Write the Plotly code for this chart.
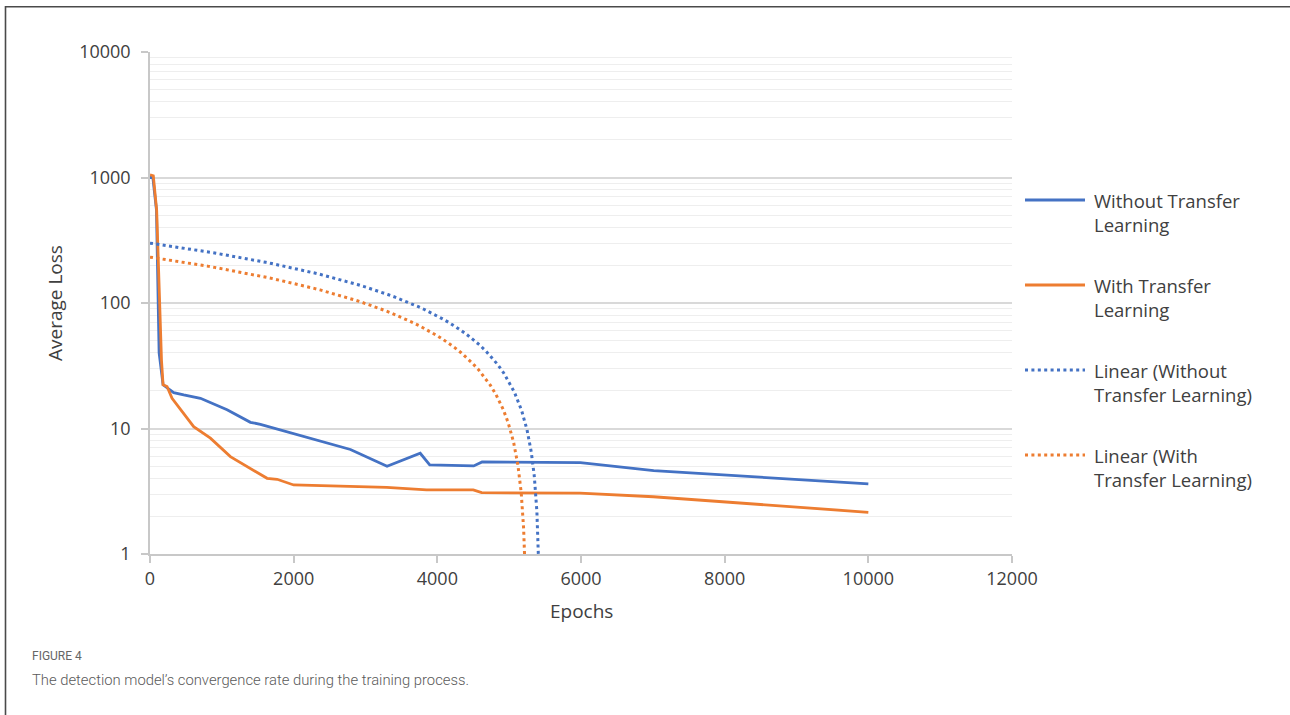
import numpy as np
import plotly.graph_objects as go

# ---------------- data ----------------
epochs_without = [0, 40, 90, 127, 182, 330, 469, 702, 1073, 1398, 1537, 1861,
                  2326, 2790, 3300, 3762, 3894, 4506, 4623, 5991, 7012, 10000]
loss_without = [1000, 1000, 550, 40, 22.3, 19.3, 18.5, 17.4, 14.1, 11.2, 10.8, 9.6,
                8.0, 6.8, 5.0, 6.35, 5.13, 5.03, 5.42, 5.35, 4.62, 3.62]

epochs_with = [0, 46, 93, 130, 160, 182, 237, 307, 608, 841, 1119, 1630, 1769,
               2000, 3295, 3850, 4500, 4617, 5986, 7007, 10000]
loss_with = [1050, 1030, 548, 119, 35, 22.3, 21.6, 17.4, 10.35, 8.37, 5.97, 4.01, 3.94,
             3.55, 3.40, 3.24, 3.24, 3.08, 3.05, 2.86, 2.15]

# linear trendlines (Excel "Linear" trendline: loss = intercept + slope * epoch)
trend_intercept = {"without": 300.0, "with": 232.0}
trend_slope = {"without": -0.0553, "with": -0.0443}

series_names = ["Without Transfer<br>Learning", "With Transfer<br>Learning",
                "Linear (Without<br>Transfer Learning)", "Linear (With<br>Transfer Learning)"]
y_tick_vals = [1, 10, 100, 1000, 10000]
y_tick_text = ["1", "10", "100", "1000", "10000"]
x_tick_vals = [0, 2000, 4000, 6000, 8000, 10000, 12000]
x_tick_text = ["0", "2000", "4000", "6000", "8000", "10000", "12000"]

BLUE = "#4472C4"
ORANGE = "#ED7D31"
TXT = "#404040"
FONT = "Open Sans"
CAP_FONT = "Roboto"

W, H = 1290, 715
L, R, T, B = 150, 278, 52, 161
PW, PH = W - L - R, H - T - B


def px(x):
    return (x - L) / PW


def py(y):
    return (H - B - y) / PH


def trend(key):
    a, b = trend_intercept[key], trend_slope[key]
    x_end = (0.9 - a) / b  # just below the axis floor so the line reaches the bottom
    xs = np.concatenate([np.linspace(0, x_end - 400, 60), np.linspace(x_end - 400, x_end, 200)])
    return xs, a + b * xs


fig = go.Figure()
fig.add_trace(go.Scatter(x=epochs_without, y=loss_without, mode="lines",
                         line=dict(color=BLUE, width=2.8), showlegend=False))
fig.add_trace(go.Scatter(x=epochs_with, y=loss_with, mode="lines",
                         line=dict(color=ORANGE, width=2.8), showlegend=False))
for key, col in (("without", BLUE), ("with", ORANGE)):
    tx, ty = trend(key)
    fig.add_trace(go.Scatter(x=tx, y=ty, mode="lines",
                             line=dict(color=col, width=3, dash="3px,3.4px"),
                             showlegend=False))

# ---------------- manual legend ----------------
shapes = []
annotations = []
legend_rows = [(200, BLUE, "solid"), (285, ORANGE, "solid"),
               (370, BLUE, "3px,3.4px"), (455, ORANGE, "3px,3.4px")]
for (ly, col, dash), name in zip(legend_rows, series_names):
    shapes.append(dict(type="line", xref="paper", yref="paper",
                       x0=px(1025), x1=px(1085), y0=py(ly), y1=py(ly),
                       line=dict(color=col, width=2.8 if dash == "solid" else 3, dash=dash)))
    annotations.append(dict(xref="paper", yref="paper", x=px(1092), y=py(ly + 12.5),
                            xanchor="left", yanchor="middle", align="left", showarrow=False,
                            text=name, font=dict(family=FONT, size=18.5, color=TXT)))

# axis titles
annotations.append(dict(xref="paper", yref="paper", x=px(55), y=py(303), textangle=-90,
                        xanchor="center", yanchor="middle", showarrow=False,
                        text="Average Loss", font=dict(family=FONT, size=19, color=TXT)))
annotations.append(dict(xref="paper", yref="paper", x=px(581), y=py(611),
                        xanchor="center", yanchor="middle", showarrow=False,
                        text="Epochs", font=dict(family=FONT, size=19, color=TXT)))

# caption
annotations.append(dict(xref="paper", yref="paper", x=px(30), y=py(656),
                        xanchor="left", yanchor="middle", showarrow=False,
                        text="FIGURE 4", font=dict(family=CAP_FONT, size=12, color="#666666")))
annotations.append(dict(xref="paper", yref="paper", x=px(30), y=py(680),
                        xanchor="left", yanchor="middle", showarrow=False,
                        text="The detection model\u2019s convergence rate during the training process.",
                        font=dict(family=CAP_FONT, size=14.8, color="#5a5a5a", weight=300)))

# outer frame (top and left edges visible)
shapes.append(dict(type="line", xref="paper", yref="paper", x0=px(5.5), x1=px(1300),
                   y0=py(6.8), y1=py(6.8), line=dict(color="#4a4a4a", width=1.6)))
shapes.append(dict(type="line", xref="paper", yref="paper", x0=px(5.5), x1=px(5.5),
                   y0=py(6), y1=py(730), line=dict(color="#4a4a4a", width=1.6)))

fig.update_layout(
    width=W, height=H,
    margin=dict(l=L, r=R, t=T, b=B, pad=0),
    paper_bgcolor="white", plot_bgcolor="white",
    showlegend=False,
    shapes=shapes, annotations=annotations,
    font=dict(family=FONT, size=18, color=TXT),
)
fig.update_xaxes(range=[0, 12000], tickmode="array", tickvals=x_tick_vals, ticktext=x_tick_text,
                 showgrid=False, zeroline=False, showline=True, linecolor="#c8c8c8", linewidth=1.6,
                 ticks="outside", ticklen=7, tickcolor="#c8c8c8", tickwidth=1.6,
                 tickfont=dict(family=FONT, size=18, color=TXT), ticklabelstandoff=1)
fig.update_yaxes(type="log", range=[0, 4], tickmode="array", tickvals=y_tick_vals, ticktext=y_tick_text,
                 showgrid=True, gridcolor="#d9d9d9", gridwidth=1.6,
                 minor=dict(dtick="D1", showgrid=True, gridcolor="#eeeeee", gridwidth=1.3, ticks=""),
                 zeroline=False, showline=True, linecolor="#c8c8c8", linewidth=1.6,
                 ticks="outside", ticklen=7, tickcolor="#c8c8c8", tickwidth=1.6,
                 tickfont=dict(family=FONT, size=18, color=TXT), ticklabelstandoff=7)

fig.write_html("out.html", config={"displayModeBar": False},
               post_script="document.body.style.margin='0px';")
